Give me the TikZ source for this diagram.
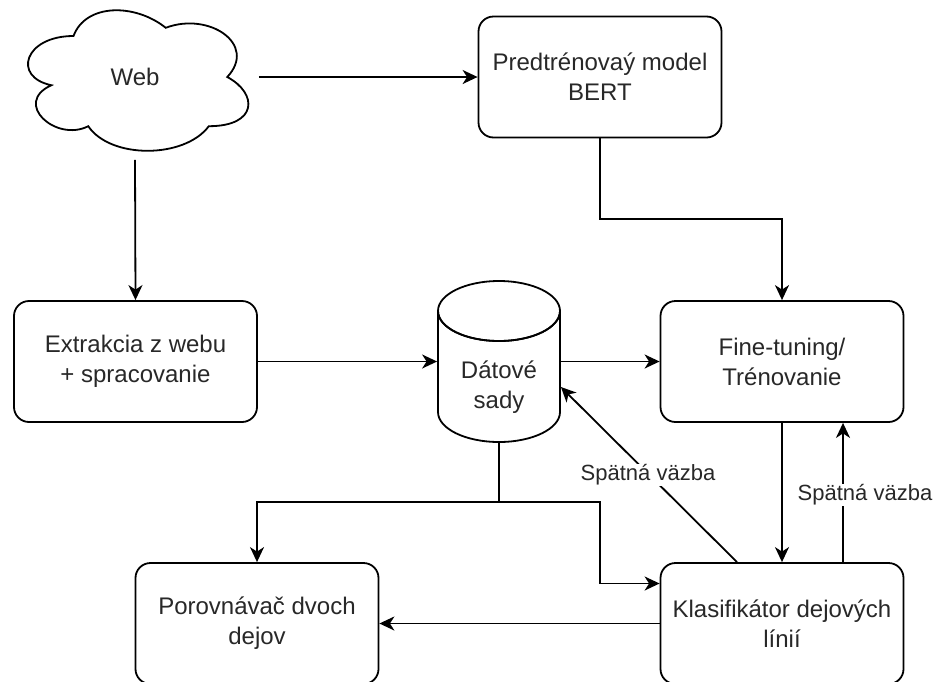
\documentclass[tikz,border=0pt]{standalone}
\usepackage{fontspec}
\setmainfont{Liberation Sans}
\usetikzlibrary{arrows.meta,calc}
\definecolor{txt}{RGB}{40,40,40}
\begin{document}
\begin{tikzpicture}[x=1pt,y=-1pt,
  line width=1.8pt,
  box/.style={draw=black,rounded corners=15pt,minimum width=243pt,minimum height=121pt,
    align=center,inner sep=0pt,text=txt,font=\fontsize{24}{30}\selectfont},
  ghost/.style={draw=none,inner sep=0pt,align=center,text=txt,font=\fontsize{24}{30}\selectfont},
  arr/.style={-{Stealth[length=15pt,width=14pt,inset=4.5pt]}},
  lbl/.style={fill=white,inner sep=1pt,text=txt,font=\fontsize{22}{26}\selectfont}]
\useasboundingbox (0,0) rectangle (934,681);
\clip (0,0) rectangle (934,681);
\fill[white] (0,0) rectangle (934,681);

% cloud
\node[ghost,minimum width=246pt,minimum height=164pt] (web) at (135,77) {};
\draw (73.5,36) .. controls (24.3,36) and (12,77) .. (51.36,85.2)
  .. controls (12,103.24) and (56.28,142.6) .. (88.26,126.2)
  .. controls (110.4,159) and (184.2,159) .. (208.8,126.2)
  .. controls (258,126.2) and (258,93.4) .. (227.25,77)
  .. controls (258,44.2) and (208.8,11.4) .. (165.75,27.8)
  .. controls (135,3.2) and (85.8,3.2) .. (73.5,36) -- cycle;
\node[ghost] (webtxt) at (135,77) {Web};

% boxes
\node[box] (bert) at (600,77) {Predtrénovaý model\\BERT};
\node[box] (extr) at (135.5,361.5) {Extrakcia z webu\\+ spracovanie};
\node[box] (fine) at (782,361.5) {Fine-tuning/\\Trénovanie};
\node[box] (klas) at (782,623.5) {Klasifikátor dejových\\línií};
\node[box] (por) at (257,623.5) {Porovnávač dvoch\\dejov};

% cylinder
\node[ghost,minimum width=122pt,minimum height=161pt] (data) at (499,361.5) {};
\draw (438,311) -- (438,412) arc[start angle=180,end angle=360,x radius=61pt,y radius=30pt]
  -- (560,311) arc[start angle=0,end angle=-180,x radius=61pt,y radius=30pt];
\draw (499,311) ellipse[x radius=61pt,y radius=30pt];
\node[ghost] (datatxt) at (499,387) {Dátové\\sady};

% connectors
\coordinate (bend1) at (0,219);
\coordinate (split) at (499,502);
\coordinate (elbow) at (600,502);
\draw[arr] (web.east) -- (bert.west);
\draw[arr] (web.south) -- (extr.north);
\draw[arr] (extr.east) -- (data.west);
\draw[arr] (data.east) -- (fine.west);
\draw[arr] (bert.south) -- (bert.south |- bend1) -| (fine.north);
\draw[arr] (data.south) -- (split) -| (por.north);
\draw[arr] (split) -- (elbow) |- ([yshift=40pt]klas.west);
\draw[arr] (fine.south) -- (klas.north);
\draw[arr] ([xshift=61pt]klas.north) -- ([xshift=61pt]fine.south);
\draw[arr] ([xshift=-45pt]klas.north) -- ([yshift=-25.5pt]data.east);
\draw[arr] (klas.west) -- (por.east);

% labels
\node[lbl] (fb1) at (648,475) {Spätná väzba};
\node[lbl] (fb2) at (865,495) {Spätná väzba};
\end{tikzpicture}
\end{document}
